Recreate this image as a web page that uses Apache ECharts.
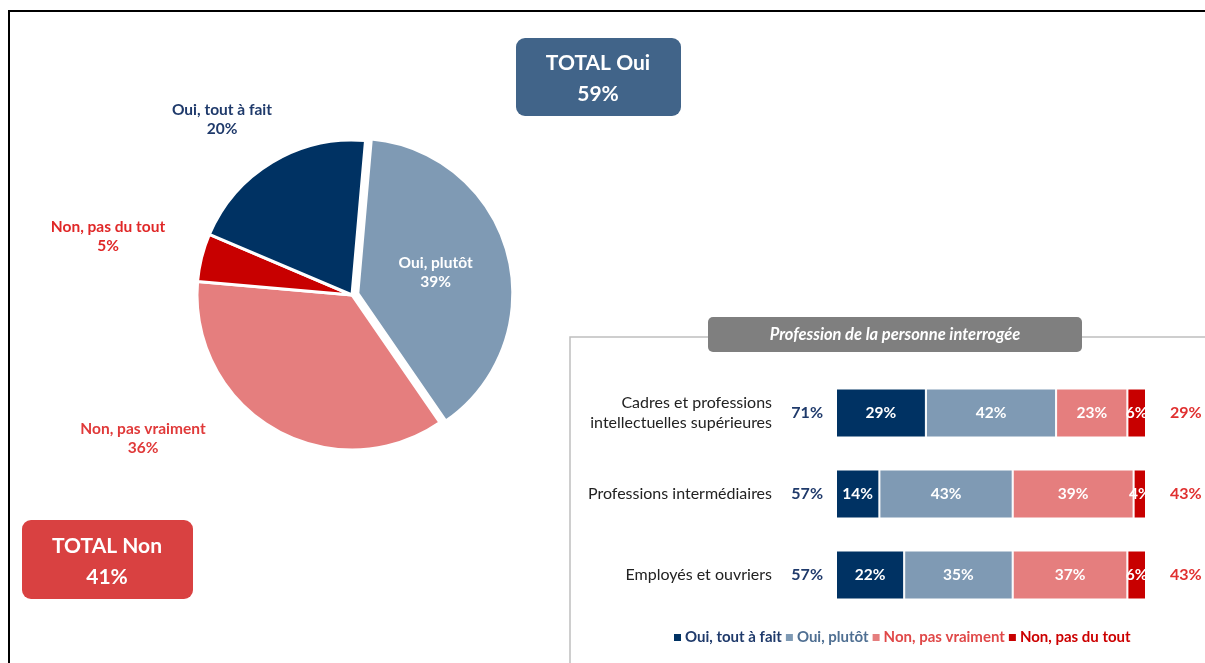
<!DOCTYPE html>
<html><head><meta charset="utf-8">
<script src="https://cdn.jsdelivr.net/npm/echarts@6/dist/echarts.min.js"></script>
<style>html,body{margin:0;padding:0;background:#fff}#c{width:1205px;height:663px}</style>
</head><body><div id="c"></div>
<script>
// ---- data ----
const pieNames = ['Oui, plutôt', 'Non, pas vraiment', 'Non, pas du tout', 'Oui, tout à fait'];
const pieValues = [39, 36, 5, 20];
const totalOuiPie = '59%';
const totalNonPie = '41%';

const categories = ['Cadres et professions\nintellectuelles supérieures', 'Professions intermédiaires', 'Employés et ouvriers'];
const seriesNames = ['Oui, tout à fait', 'Oui, plutôt', 'Non, pas vraiment', 'Non, pas du tout'];
const ouiToutAFait = [29, 14, 22];
const ouiPlutot = [42, 43, 35];
const nonPasVraiment = [23, 39, 37];
const nonPasDuTout = [6, 4, 6];
const totalOui = ['71%', '57%', '57%'];
const totalNon = ['29%', '43%', '43%'];
const panelTitle = 'Profession de la personne interrogée';

// ---- styles ----
const FONT = 'Lato';
const C_NAVY = '#003263';
const C_LBLUE = '#7F9AB4';
const C_PINK = '#E57E7E';
const C_RED = '#C80000';
const pieColors = [C_LBLUE, C_PINK, C_RED, C_NAVY];
const pieLabelColors = ['#ffffff', '#E03A3A', '#E02828', '#1F3A6B'];
const pieLabelPos = [[441, 277], [143, 438], [108, 236], [222, 119]];

const chart = echarts.init(document.getElementById('c'), null, {renderer: 'canvas'});

const barColors = [C_NAVY, C_LBLUE, C_PINK, C_RED];
const barData = [ouiToutAFait, ouiPlutot, nonPasVraiment, nonPasDuTout];
const legendColors = ['#1F3A6B', '#4F6F92', '#E04848', '#CC0000'];

const option = {
  animation: false,
  textStyle: {fontFamily: FONT},
  graphic: [
    {type: 'polyline', shape: {points: [[9, 663], [9, 11], [1205, 11]]}, style: {stroke: '#000', lineWidth: 2, fill: null}, z: 1},
    {type: 'polyline', shape: {points: [[570, 663], [570, 337], [1205, 337]]}, style: {stroke: '#BFBFBF', lineWidth: 1.5, fill: null}, z: 1},
    {type: 'rect', shape: {x: 708, y: 317, width: 374, height: 35, r: 5}, style: {fill: '#7F7F7F'}, z: 5},
    {type: 'text', x: 895, y: 335, style: {text: panelTitle, fill: '#fff', font: 'italic bold 16.5px ' + FONT, textAlign: 'center', textVerticalAlign: 'middle'}, z: 6},
    {type: 'rect', shape: {x: 516, y: 38, width: 165, height: 78, r: 9}, style: {fill: '#416489'}, z: 5},
    {type: 'text', x: 598, y: 63, style: {text: 'TOTAL Oui', fill: '#fff', font: 'bold 21px ' + FONT, textAlign: 'center', textVerticalAlign: 'middle'}, z: 6},
    {type: 'text', x: 598, y: 94, style: {text: totalOuiPie, fill: '#fff', font: 'bold 21px ' + FONT, textAlign: 'center', textVerticalAlign: 'middle'}, z: 6},
    {type: 'rect', shape: {x: 22, y: 520, width: 171, height: 79, r: 9}, style: {fill: '#D94141'}, z: 5},
    {type: 'text', x: 107, y: 546, style: {text: 'TOTAL Non', fill: '#fff', font: 'bold 21px ' + FONT, textAlign: 'center', textVerticalAlign: 'middle'}, z: 6},
    {type: 'text', x: 107, y: 577, style: {text: totalNonPie, fill: '#fff', font: 'bold 21px ' + FONT, textAlign: 'center', textVerticalAlign: 'middle'}, z: 6}
  ],
  legend: {
    left: 672, top: 630, padding: 0,
    icon: 'rect', itemWidth: 9, itemHeight: 9, itemGap: 2,
    textStyle: {fontFamily: FONT, fontSize: 15, fontWeight: 'bold', padding: [0, 0, 0, -2]},
    data: seriesNames.map((n, i) => ({name: n, textStyle: {color: legendColors[i]}})),
    selectedMode: false
  },
  grid: {left: 836, right: 59, top: 372.5, bottom: 47.5},
  xAxis: {type: 'value', min: 0, max: 100, show: false},
  yAxis: [
    {type: 'category', data: categories, inverse: true, axisLine: {show: false}, axisTick: {show: false},
     axisLabel: {margin: 64, color: '#222', fontSize: 16, fontFamily: FONT, lineHeight: 20, align: 'right'}},
    {type: 'category', data: totalOui, inverse: true, position: 'left', axisLine: {show: false}, axisTick: {show: false},
     axisLabel: {margin: 13, color: '#1F3A6B', fontSize: 16, fontWeight: 'bold', fontFamily: FONT}},
    {type: 'category', data: totalNon, inverse: true, position: 'right', axisLine: {show: false}, axisTick: {show: false},
     axisLabel: {margin: 24, color: '#E03030', fontSize: 16, fontWeight: 'bold', fontFamily: FONT}}
  ],
  series: [
    ...barData.map((d, i) => ({
      name: seriesNames[i], type: 'bar', stack: 'all', yAxisIndex: 0, barWidth: 49,
      data: d,
      itemStyle: {color: barColors[i], borderColor: '#fff', borderWidth: 1},
      label: {show: true, position: 'inside', color: '#fff', fontWeight: 'bold', fontSize: 15.5, fontFamily: FONT, formatter: '{c}%'}
    })),
    {
      type: 'pie', center: [352, 295], radius: 155, startAngle: 85, clockwise: true,
      selectedMode: 'single', selectedOffset: 6,
      data: pieNames.map((n, i) => ({name: n, value: pieValues[i], selected: i === 0,
        itemStyle: {color: pieColors[i]},
        label: {color: pieLabelColors[i]}})),
      itemStyle: {borderColor: '#fff', borderWidth: 3},
      label: {show: true, position: 'inside', fontFamily: FONT, fontSize: 15.5, fontWeight: 'bold', lineHeight: 19,
        formatter: p => p.name + '\n' + p.value + '%'},
      labelLine: {show: false},
      labelLayout: p => ({x: pieLabelPos[p.dataIndex][0], y: pieLabelPos[p.dataIndex][1], align: 'center', verticalAlign: 'middle'}),
      emphasis: {disabled: true}
    }
  ]
};
chart.setOption(option);
</script></body></html>
